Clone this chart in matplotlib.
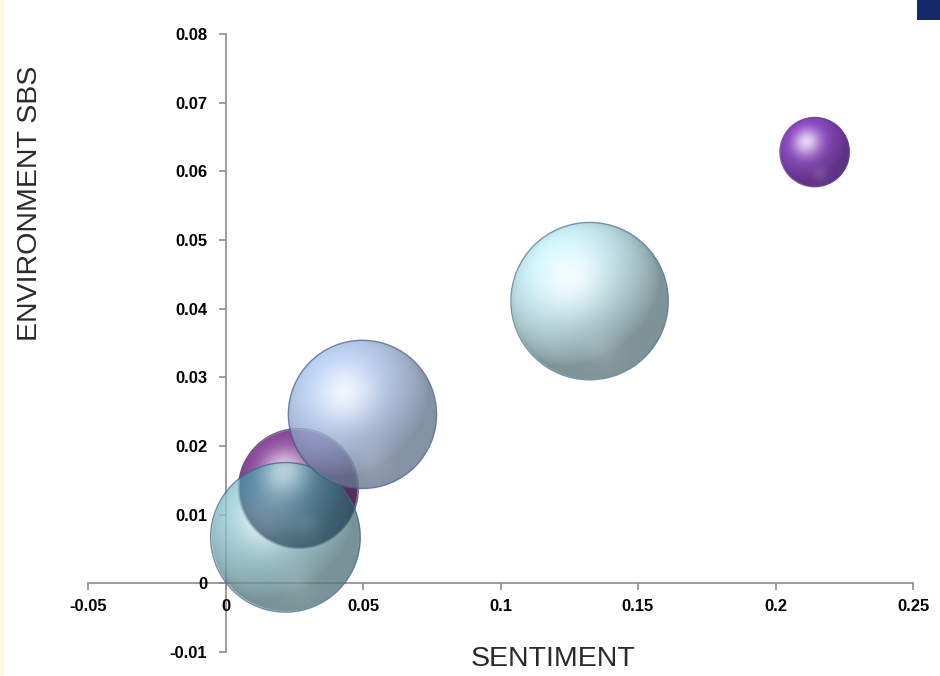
import numpy as np
import matplotlib
matplotlib.use("Agg")
import matplotlib.pyplot as plt
from matplotlib.colors import to_rgb

# ---- data ----
sentiment = [0.0265, 0.0218, 0.0498, 0.1324, 0.2142]
env_sbs = [0.0138, 0.0067, 0.0246, 0.0411, 0.0628]
bubble_size = [3.6, 5.6, 5.5, 6.2, 1.2]
colors = ['#8a4a98', '#8cc2cb', '#a6c0e8', '#c6e9f0', '#8646ba']
edge_colors = ['#4a3060', '#3f6490', '#3f5f90', '#4f7499', '#5a3a90']
alphas = [1.0, 0.80, 0.80, 0.97, 1.0]
xticks = [-0.05, 0, 0.05, 0.1, 0.15, 0.2, 0.25]
xtick_labels = ['-0.05', '0', '0.05', '0.1', '0.15', '0.2', '0.25']
yticks = [-0.01, 0, 0.01, 0.02, 0.03, 0.04, 0.05, 0.06, 0.07, 0.08]
ytick_labels = ['-0.01', '0', '0.01', '0.02', '0.03', '0.04', '0.05', '0.06', '0.07', '0.08']

W, H, DPI = 940, 676, 100
fig = plt.figure(figsize=(W / DPI, H / DPI), dpi=DPI)
fig.patch.set_facecolor('white')

# left pale strip and corner square
fig.patches.append(plt.Rectangle((0, 0), 4 / W, 1, transform=fig.transFigure,
                                 facecolor='#fdfbe6', edgecolor='none'))
fig.patches.append(plt.Rectangle((917 / W, 1 - 20 / H), 23 / W, 20 / H, transform=fig.transFigure,
                                 facecolor='#172a68', edgecolor='none'))

ax = fig.add_axes([88 / W, 1 - 652 / H, 825 / W, 618 / H])
ax.set_xlim(-0.05, 0.25)
ax.set_ylim(-0.01, 0.08)
ax.set_autoscale_on(False)
ax.patch.set_alpha(0)

for s in ['top', 'right']:
    ax.spines[s].set_visible(False)
ax.spines['left'].set_position(('data', 0))
ax.spines['bottom'].set_position(('data', 0))
for s in ['left', 'bottom']:
    ax.spines[s].set_color('#8c8c8c')
    ax.spines[s].set_linewidth(1.2)
    ax.spines[s].set_zorder(0.5)

ax.set_xticks(xticks)
ax.set_xticklabels(xtick_labels)
ax.set_yticks(yticks)
ax.set_yticklabels(ytick_labels)
ax.tick_params(axis='both', direction='out', length=5, width=1.2, color='#8c8c8c',
               labelsize=12, labelcolor='black')
ax.tick_params(axis='x', pad=6)
ax.tick_params(axis='y', pad=8)
for lab in ax.get_xticklabels() + ax.get_yticklabels():
    lab.set_fontweight('bold')
    lab.set_fontfamily('Liberation Sans')

N = 260


def sphere_rgb(base, u, v, lo=0.62, hi=0.45):
    base = np.array(to_rgb(base))
    rr = u ** 2 + v ** 2
    z = np.sqrt(np.clip(1 - rr, 0, 1))
    L = np.array([-0.45, 0.55, 0.70]); L /= np.linalg.norm(L)
    Hv = L + np.array([0, 0, 1.0]); Hv /= np.linalg.norm(Hv)
    diff = np.clip(u * L[0] + v * L[1] + z * L[2], 0, 1)
    spec = np.clip(u * Hv[0] + v * Hv[1] + z * Hv[2], 0, 1) ** 12
    shade = lo + hi * diff
    col = base[None, None, :] * shade[..., None]
    glow = 0.12 * np.exp(-((u - 0.15) ** 2 + (v + 0.62) ** 2) / 0.05)
    col = col + (1 - col) * (0.75 * spec + glow)[..., None]
    return np.clip(col, 0, 1)


g = np.linspace(-1, 1, N)
U, V = np.meshgrid(g, g)
RR = np.sqrt(U ** 2 + V ** 2)
EDGE = np.clip((1 - RR) * N / 2, 0, 1)

inv = ax.transData.inverted()
radii = [31.6 * np.sqrt(sz) for sz in bubble_size]
centers = [ax.transData.transform((xv, yv)) for xv, yv in zip(sentiment, env_sbs)]

for i, (xv, yv, c, ec, al) in enumerate(zip(sentiment, env_sbs, colors, edge_colors, alphas)):
    r = radii[i]
    cx, cy = centers[i]
    x0, y0 = inv.transform((cx - r, cy - r))
    x1, y1 = inv.transform((cx + r, cy + r))
    if i == 4:
        rgb = sphere_rgb(c, U, V, lo=0.72, hi=0.35)
    else:
        rgb = sphere_rgb(c, U, V)
    img = np.dstack([rgb, al * EDGE])
    ax.imshow(img, extent=(x0, x1, y0, y1), origin='lower',
              aspect='auto', interpolation='bilinear', zorder=2 + i, clip_on=False)
    if i == 1:
        # darker see-through of the purple bubble beneath the translucent teal bubble
        r0 = radii[0]
        c0x, c0y = centers[0]
        px = cx + U * r
        py = cy + V * r
        in0 = np.clip((r0 - np.sqrt((px - c0x) ** 2 + (py - c0y) ** 2)), 0, 1)
        u0 = (px - c0x) / r0
        v0 = (py - c0y) / r0
        dark = sphere_rgb('#2c6a86', np.clip(u0, -1, 1), np.clip(v0, -1, 1))
        ov = np.dstack([dark, 0.55 * in0 * EDGE])
        ax.imshow(ov, extent=(x0, x1, y0, y1), origin='lower',
                  aspect='auto', interpolation='bilinear', zorder=2.2 + i, clip_on=False)
    d_pt = 2 * r * 72 / DPI
    ax.scatter([xv], [yv], s=[d_pt ** 2], facecolors='none', edgecolors=ec,
               linewidths=1.0, alpha=0.75, zorder=2.5 + i, clip_on=False)

ax.set_xlim(-0.05, 0.25)
ax.set_ylim(-0.01, 0.08)

fig.text(30 / W, 1 - 203 / H, 'ENVIRONMENT SBS', rotation=90, ha='center', va='center',
         fontsize=20.5, color='#2a2a2a', family='Liberation Sans')
fig.text(553 / W, 1 - 659 / H, 'SENTIMENT', ha='center', va='center',
         fontsize=20.5, color='#2a2a2a', family='Liberation Sans')

fig.savefig('out.png', dpi=DPI)
